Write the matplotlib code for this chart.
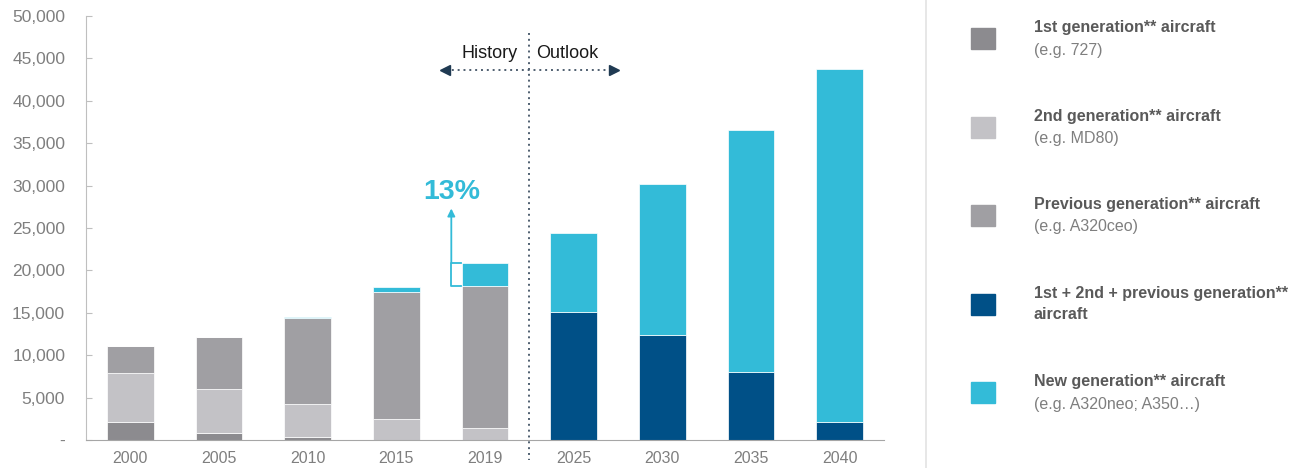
import matplotlib.pyplot as plt
from matplotlib.patches import Rectangle
from matplotlib.ticker import FuncFormatter

plt.rcParams['font.family'] = ['Liberation Sans', 'DejaVu Sans']

# fleet size per year, split by aircraft generation
years = ['2000', '2005', '2010', '2015', '2019', '2025', '2030', '2035', '2040']
first_gen = [2150, 830, 350, 0, 0, 0, 0, 0, 0]
second_gen = [5800, 5200, 3950, 2480, 1450, 0, 0, 0, 0]
previous_gen = [3150, 6150, 10100, 14970, 16700, 0, 0, 0, 0]
older_combined = [0, 0, 0, 0, 0, 15050, 12380, 8050, 2160]
new_gen = [0, 0, 100, 550, 2750, 9320, 17770, 28550, 41540]

series = [first_gen, second_gen, previous_gen, older_combined, new_gen]
colors = ['#8c8b8f', '#c3c2c6', '#a09fa3', '#005087', '#33bbd8']
titles = ['1st generation** aircraft', '2nd generation** aircraft',
          'Previous generation** aircraft', '1st + 2nd + previous generation**\naircraft',
          'New generation** aircraft']
subtitles = ['(e.g. 727)', '(e.g. MD80)', '(e.g. A320ceo)', None, '(e.g. A320neo; A350\u2026)']

W, H = 1294, 468
fig = plt.figure(figsize=(W / 100, H / 100), dpi=100)
ax = fig.add_axes([86 / W, 1 - 440 / H, (884 - 86) / W, (440 - 16) / H])

x = list(range(len(years)))
bottom = [0] * len(years)
for vals, col in zip(series, colors):
    ax.bar(x, vals, width=0.525, bottom=bottom, color=col, edgecolor='white', linewidth=0.5)
    bottom = [b + v for b, v in zip(bottom, vals)]

ax.set_xlim(-0.5, 8.5)
ax.set_ylim(0, 50000)
ax.set_xticks(x)
ax.set_xticklabels(years)
ax.set_yticks(range(0, 50001, 5000))
ax.yaxis.set_major_formatter(FuncFormatter(lambda v, p: '-' if v == 0 else f'{int(v):,}'))
for s in ['top', 'right']:
    ax.spines[s].set_visible(False)
ax.spines['left'].set_color('#bfbfbf')
ax.spines['bottom'].set_color('#a6a6a6')
ax.tick_params(axis='y', direction='in', length=4, color='#bfbfbf', labelsize=12.5,
               labelcolor='#7f7f7f', pad=15)
ax.tick_params(axis='x', length=0, labelsize=11.5, labelcolor='#7f7f7f', pad=8)

# history / outlook divider
ax.plot([4.5, 4.5], [48000, -2400], ls=(0, (1, 2)), lw=1.4, color='#4f5f70', clip_on=False)
ax.plot([3.56, 5.44], [43650, 43650], ls=(0, (1, 2)), lw=1.4, color='#4f5f70', clip_on=False)
ax.plot([3.55], [43650], marker='<', ms=7, color='#1f3a52', clip_on=False)
ax.plot([5.45], [43650], marker='>', ms=7, color='#1f3a52', clip_on=False)
ax.text(4.37, 45600, 'History', ha='right', va='center', fontsize=13, color='#1a1a1a')
ax.text(4.58, 45600, 'Outlook', ha='left', va='center', fontsize=13, color='#1a1a1a')

# share of new generation aircraft in 2019
i19 = years.index('2019')
old19 = first_gen[i19] + second_gen[i19] + previous_gen[i19]
tot19 = old19 + new_gen[i19]
share = round(100 * new_gen[i19] / tot19)
cyan = '#33bbd8'
bx0, bx1 = 3.62, 3.725
ax.plot([bx1, bx0, bx0, bx1], [tot19, tot19, old19, old19], color=cyan, lw=1.3)
ax.annotate('', xy=(bx0, 27300), xytext=(bx0, tot19),
            arrowprops=dict(arrowstyle='-|>', color=cyan, lw=1.3, mutation_scale=11,
                            shrinkA=0, shrinkB=0))
ax.text(bx0, 29200, f'{share}%', ha='center', va='center', fontsize=20.5,
        fontweight='bold', color=cyan)

# legend panel
lax = fig.add_axes([0, 0, 1, 1])
lax.set_xlim(0, W)
lax.set_ylim(H, 0)
lax.axis('off')
lax.plot([926, 926], [0, H], color='#e3e3e3', lw=1.2)
for k, (col, t, sub) in enumerate(zip(colors, titles, subtitles)):
    yc = 38.5 + 88.5 * k
    lax.add_patch(Rectangle((971, yc - 10.5), 24, 21, color=col))
    if sub is None:
        lax.text(1034, yc, t, ha='left', va='center', fontsize=11.5, fontweight='bold',
                 color='#595959', linespacing=1.5)
    else:
        lax.text(1034, yc - 11, t, ha='left', va='center', fontsize=11.5,
                 fontweight='bold', color='#595959')
        lax.text(1034, yc + 11.5, sub, ha='left', va='center', fontsize=11.5, color='#7f7f7f')

fig.savefig('out.png', dpi=100)
